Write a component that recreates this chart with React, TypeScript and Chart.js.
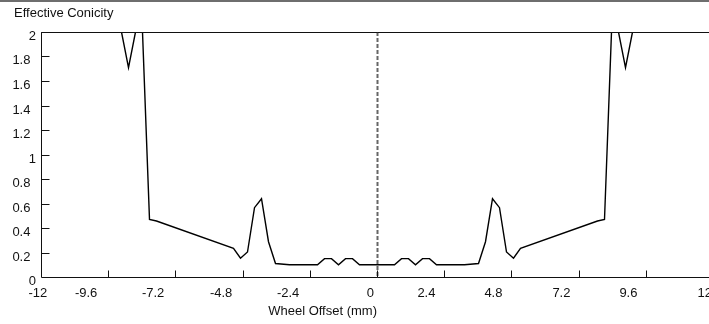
import React, { useEffect, useRef } from "react";
import { Chart, registerables } from "chart.js";

Chart.register(...registerables);

const offsets = [-12, -9.125, -8.875, -8.625, -8.375, -8.125, -7.875, -5.125, -4.875, -4.625, -4.375, -4.125, -3.875, -3.625, -3.125, -2.125, -1.875, -1.625, -1.375, -1.125, -0.875, -0.625, 0.625, 0.875, 1.125, 1.375, 1.625, 1.875, 2.125, 3.125, 3.625, 3.875, 4.125, 4.375, 4.625, 4.875, 5.125, 7.875, 8.125, 8.375, 8.625, 8.875, 9.125, 12];
const conicity = [2, 2, 1.71, 2, 2, 0.47, 0.457, 0.234, 0.153, 0.204, 0.566, 0.639, 0.288, 0.11, 0.1, 0.1, 0.15, 0.15, 0.1, 0.15, 0.15, 0.1, 0.1, 0.15, 0.15, 0.1, 0.15, 0.15, 0.1, 0.1, 0.11, 0.288, 0.639, 0.566, 0.204, 0.153, 0.234, 0.457, 0.47, 2, 2, 1.71, 2, 2];
const xTicks = [-12, -9.6, -7.2, -4.8, -2.4, 0, 2.4, 4.8, 7.2, 9.6, 12];
const yTicks = [0, 0.2, 0.4, 0.6, 0.8, 1, 1.2, 1.4, 1.6, 1.8, 2];
const yTitle = "Effective Conicity";
const xTitle = "Wheel Offset (mm)";

const FONT = '13px "Liberation Sans", Arial, Helvetica, sans-serif';

const decorPlugin = {
  id: "decor",
  beforeDatasetsDraw(chart: any) {
    const ctx = chart.ctx;
    const xs = chart.scales.x;
    const area = chart.chartArea;
    ctx.save();
    const x0 = Math.round(xs.getPixelForValue(0)) + 0.5;
    ctx.strokeStyle = "#666";
    ctx.lineWidth = 2;
    ctx.setLineDash([4, 2]);
    ctx.beginPath();
    ctx.moveTo(x0, area.top);
    ctx.lineTo(x0, area.bottom);
    ctx.stroke();
    ctx.restore();
  },
  afterDraw(chart: any) {
    const ctx = chart.ctx;
    const xs = chart.scales.x;
    const ys = chart.scales.y;
    const area = chart.chartArea;
    ctx.save();
    ctx.fillStyle = "#6e6e6e";
    ctx.fillRect(0, 0, 709, 2);

    ctx.strokeStyle = "#111";
    ctx.lineWidth = 1;
    ctx.setLineDash([]);
    const L = Math.round(area.left) + 0.5;
    const T = Math.round(area.top) + 0.5;
    const B = Math.round(area.bottom) + 0.5;
    ctx.beginPath();
    ctx.moveTo(L, T);
    ctx.lineTo(area.right, T);
    ctx.moveTo(L, T);
    ctx.lineTo(L, B);
    ctx.lineTo(area.right, B);
    ctx.stroke();

    ctx.font = FONT;
    ctx.fillStyle = "#111";
    ctx.textAlign = "right";
    ctx.textBaseline = "middle";
    yTicks.forEach((v) => {
      const y = Math.round(ys.getPixelForValue(v)) + 0.5;
      if (v !== 0 && v !== 2) {
        ctx.beginPath();
        ctx.moveTo(L, y);
        ctx.lineTo(L + 8, y);
        ctx.stroke();
      }
      const label = String(v);
      const w = ctx.measureText(label).width;
      ctx.fillText(label, L - 2 - w / 2, y + 3.5);
    });

    ctx.textBaseline = "alphabetic";
    xTicks.forEach((v, i) => {
      const x = Math.round(xs.getPixelForValue(v)) + 0.5;
      if (i > 0) {
        ctx.beginPath();
        ctx.moveTo(x, B);
        ctx.lineTo(x, B - 7);
        ctx.stroke();
      }
      const label = String(v);
      const w = ctx.measureText(label).width;
      if (i === 0) {
        ctx.textAlign = "left";
        ctx.fillText(label, x - 13, 297);
      } else if (i === xTicks.length - 1) {
        ctx.textAlign = "left";
        ctx.fillText(label, x - 16, 297);
      } else {
        ctx.textAlign = "right";
        ctx.fillText(label, x - w / 2, 297);
      }
    });

    ctx.textAlign = "right";
    ctx.fillText(xTitle, Math.round(xs.getPixelForValue(0)), 315);

    ctx.textAlign = "left";
    ctx.fillText(yTitle, 14, 17);
    ctx.restore();
  },
};

export default function App() {
  const ref = useRef<HTMLCanvasElement>(null);
  useEffect(() => {
    if (!ref.current) return;
    const chart = new Chart(ref.current, {
      type: "line",
      data: {
        datasets: [
          {
            data: offsets.map((x, i) => ({ x, y: conicity[i] })),
            borderColor: "#000",
            borderWidth: 1.4,
            pointRadius: 0,
            fill: false,
            tension: 0,
          },
        ],
      },
      options: {
        animation: false,
        responsive: false,
        devicePixelRatio: 1,
        layout: { padding: { left: 41, right: 7, top: 32, bottom: 47 } },
        plugins: { legend: { display: false }, tooltip: { enabled: false } },
        scales: {
          x: { type: "linear", min: -12, max: 12, display: false },
          y: { type: "linear", min: 0, max: 2, display: false },
        },
      },
      plugins: [decorPlugin],
    });
    return () => chart.destroy();
  }, []);
  return (
    <div
      style={{
        position: "absolute",
        left: 0,
        top: 0,
        width: 709,
        height: 324,
        overflow: "hidden",
        background: "#fff",
      }}
    >
      <canvas ref={ref} width={720} height={324} style={{ width: 720, height: 324, display: "block" }} />
    </div>
  );
}
